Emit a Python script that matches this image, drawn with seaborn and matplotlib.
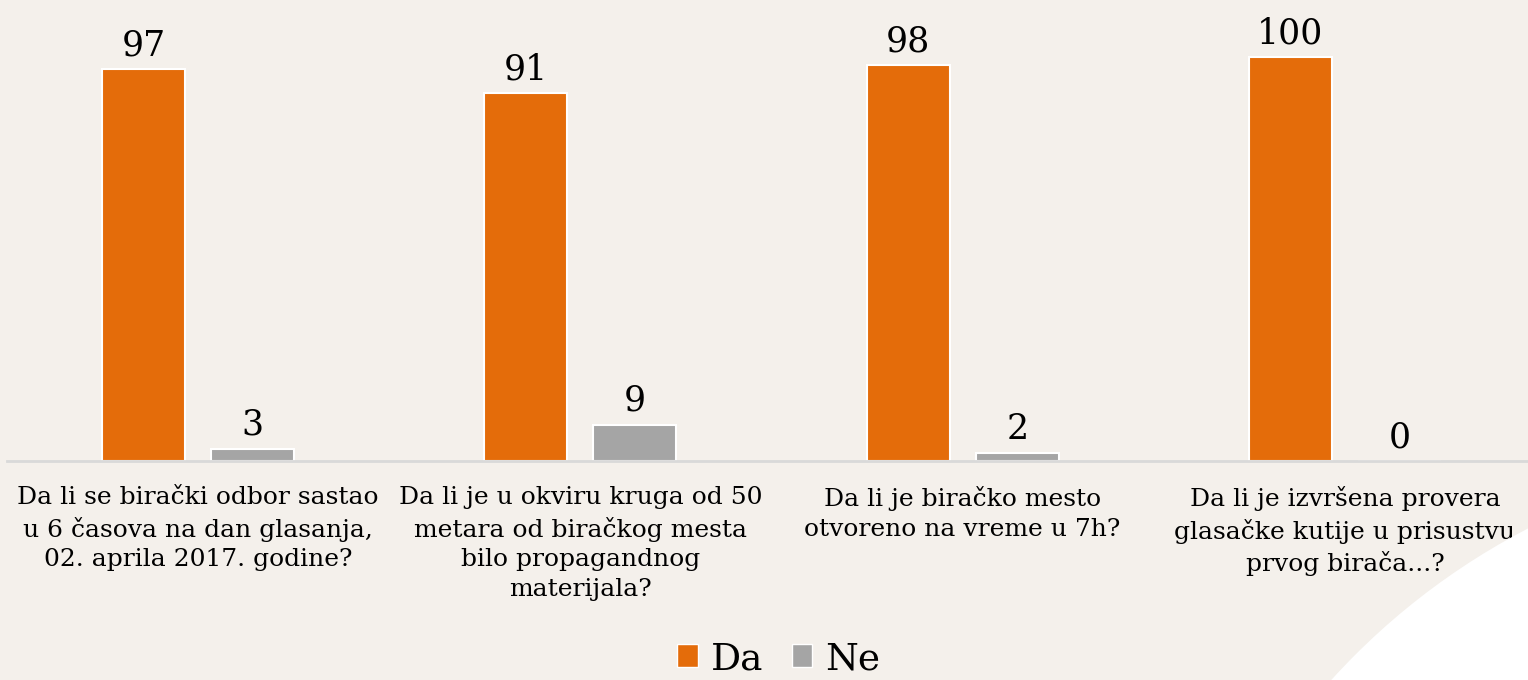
import numpy as np
import pandas as pd
import seaborn as sns
import matplotlib.pyplot as plt
from matplotlib.patches import Ellipse, Patch

# chart data
questions = [
    "Da li se birački odbor sastao\nu 6 časova na dan glasanja,\n02. aprila 2017. godine?",
    "Da li je u okviru kruga od 50\nmetara od biračkog mesta\nbilo propagandnog\nmaterijala?",
    "Da li je biračko mesto\notvoreno na vreme u 7h?",
    "Da li je izvršena provera\nglasačke kutije u prisustvu\nprvog birača...?",
]
da_values = [97, 91, 98, 100]
ne_values = [3, 9, 2, 0]
series = ["Da", "Ne"]
colors = ["#E46C0A", "#A5A5A5"]

df = pd.DataFrame({
    "q": questions * 2,
    "odgovor": ["Da"] * 4 + ["Ne"] * 4,
    "pct": da_values + ne_values,
})

bg = "#F4F0EB"
sns.set_theme(style="white")
plt.rcParams['font.family'] = ['DejaVu Serif']
plt.rcParams['text.color'] = 'black'
plt.rcParams['xtick.color'] = 'black'

fig = plt.figure(figsize=(15.28, 6.8), dpi=100, facecolor=bg)
# white swoosh in the bottom-right corner
fig.patches.append(Ellipse((1850/1528, 1 - 1150/680), 1400/1528, 1400/680,
                           transform=fig.transFigure, facecolor="white",
                           edgecolor="none", zorder=0))

ax = fig.add_axes([7/1528, 1 - 461/680, 1529/1528, 461/680])
ax.set_facecolor("none")
sns.barplot(data=df, x="q", y="pct", hue="odgovor", palette=colors,
            width=0.571, gap=0.24, edgecolor="white", linewidth=1.5,
            saturation=1, legend=False, ax=ax)

for cont in ax.containers:
    ax.bar_label(cont, padding=5, fontsize=25, color="black")

ax.set_ylim(0, 114.1)
ax.set_xlim(-0.5, 3.5)
ax.set_xlabel("")
ax.set_ylabel("")
ax.set_yticks([])
for s in ["top", "right", "left"]:
    ax.spines[s].set_visible(False)
ax.spines["bottom"].set_color("#D9D9D9")
ax.spines["bottom"].set_linewidth(2)
ax.tick_params(axis="x", length=0, pad=18, labelsize=18)
for t in ax.get_xticklabels():
    t.set_linespacing(1.38)

handles = [Patch(facecolor=c, edgecolor="white", label=s) for c, s in zip(colors, series)]
fig.legend(handles=handles, loc="center", bbox_to_anchor=(779/1528, 1 - 659/680),
           ncol=2, frameon=False, fontsize=27, handlelength=0.55, handleheight=0.55,
           handletextpad=0.35, columnspacing=0.75, borderpad=0)

fig.savefig("out.png", dpi=100, facecolor=bg)
